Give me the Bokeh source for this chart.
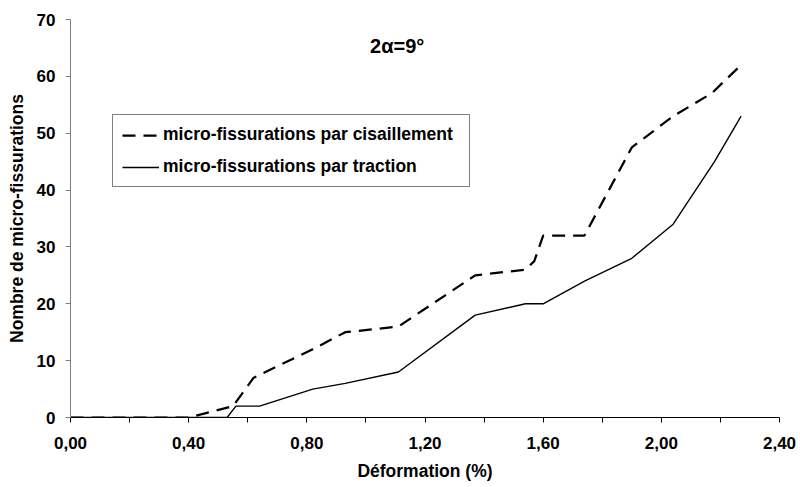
from bokeh.plotting import figure
from bokeh.models import Legend, LegendItem, Label, FixedTicker, CustomJSTickFormatter, Range1d
from bokeh.embed import file_html
from bokeh.resources import INLINE

# ---- data ----
shear_x = [0.00, 0.40, 0.55, 0.62, 0.82, 0.93, 1.11, 1.37, 1.54, 1.57, 1.60, 1.74, 1.90, 2.04, 2.17, 2.27]
shear_y = [0, 0, 2, 7, 12, 15, 16, 25, 26, 27.5, 32, 32, 47.5, 53, 57, 62]

traction_x = [0.00, 0.53, 0.56, 0.64, 0.82, 0.93, 1.11, 1.37, 1.54, 1.60, 1.74, 1.90, 2.04, 2.18, 2.27]
traction_y = [0, 0, 2, 2, 5, 6, 8, 18, 20, 20, 24, 28, 34, 45, 53]

x_ticks = [0.0, 0.4, 0.8, 1.2, 1.6, 2.0, 2.4]
x_minor = [0.2, 0.6, 1.0, 1.4, 1.8, 2.2]
y_ticks = [0, 10, 20, 30, 40, 50, 60, 70]

series_names = ["micro-fissurations par cisaillement", "micro-fissurations par traction"]
title_text = "2\u03b1=9\u00b0"
x_label = "D\u00e9formation (%)"
y_label = "Nombre de micro-fissurations"

FONT = "Liberation Sans"

p = figure(width=796, height=485, output_backend="svg", toolbar_location=None,
           x_range=Range1d(0, 2.4), y_range=Range1d(0, 70),
           min_border_left=70, min_border_right=17, min_border_top=19, min_border_bottom=68)
p.outline_line_color = None
p.grid.visible = False
p.background_fill_color = "white"
p.border_fill_color = "white"

r1 = p.line(shear_x, shear_y, line_color="black", line_width=2.25, line_dash="13 8")
r2 = p.line(traction_x, traction_y, line_color="black", line_width=1.4)

# x axis
xa = p.xaxis[0]
xa.ticker = FixedTicker(ticks=x_ticks, minor_ticks=x_minor)
xa.formatter = CustomJSTickFormatter(code="return tick.toFixed(2).replace('.', ',');")
xa.axis_line_color = "black"
xa.major_tick_line_color = "black"
xa.minor_tick_line_color = "black"
xa.major_tick_in = 0
xa.major_tick_out = 5
xa.minor_tick_in = 0
xa.minor_tick_out = 5
xa.major_label_text_font = FONT
xa.major_label_text_font_style = "bold"
xa.major_label_text_font_size = "17px"
xa.major_label_text_color = "black"
xa.major_label_standoff = 14
xa.axis_label = x_label
xa.axis_label_text_font = FONT
xa.axis_label_text_font_style = "bold"
xa.axis_label_text_font_size = "17.5px"
xa.axis_label_text_color = "black"
xa.axis_label_standoff = 9

# y axis
ya = p.yaxis[0]
ya.ticker = FixedTicker(ticks=y_ticks, minor_ticks=[])
ya.axis_line_color = "#808080"
ya.major_tick_line_color = "#808080"
ya.major_tick_in = 0
ya.major_tick_out = 5
ya.minor_tick_in = 0
ya.minor_tick_out = 0
ya.major_label_text_font = FONT
ya.major_label_text_font_style = "bold"
ya.major_label_text_font_size = "17px"
ya.major_label_text_color = "black"
ya.major_label_standoff = 10
ya.axis_label = y_label
ya.axis_label_text_font = FONT
ya.axis_label_text_font_style = "bold"
ya.axis_label_text_font_size = "17.5px"
ya.axis_label_text_color = "black"
ya.axis_label_standoff = 7

# title inside plot
p.add_layout(Label(x=1.106, y=65.4, text=title_text, text_font=FONT, text_font_style="bold",
                   text_font_size="20px", text_align="center", text_baseline="middle",
                   text_color="black"))

legend = Legend(items=[LegendItem(label=series_names[0], renderers=[r1]),
                       LegendItem(label=series_names[1], renderers=[r2])],
                location=(42, 230), orientation="vertical")
legend.border_line_color = "black"
legend.border_line_width = 1
legend.background_fill_color = "white"
legend.background_fill_alpha = 1
legend.label_text_font = FONT
legend.label_text_font_style = "bold"
legend.label_text_font_size = "17.5px"
legend.label_text_color = "black"
legend.padding = 9
legend.spacing = 11
legend.margin = 0
legend.glyph_width = 37
legend.glyph_height = 20
legend.label_height = 20
legend.label_standoff = 4
legend.label_width = 297
p.add_layout(legend, "center")

open("out.html", "w").write(file_html(p, INLINE))
